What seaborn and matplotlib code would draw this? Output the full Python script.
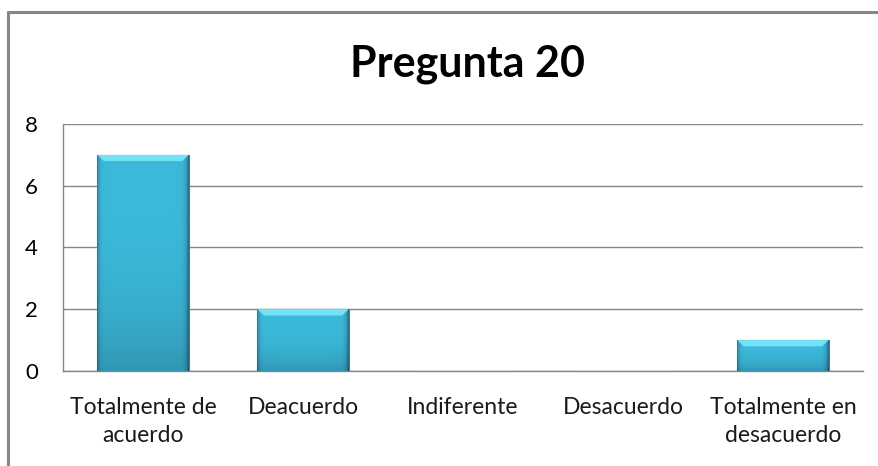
import numpy as np
import pandas as pd
import seaborn as sns
from matplotlib import pyplot as plt
from matplotlib.lines import Line2D
from matplotlib.patches import Polygon

plt.close('all')

# data
Categories = ['Totalmente de\nacuerdo', 'Deacuerdo', 'Indiferente',
              'Desacuerdo', 'Totalmente en\ndesacuerdo']
Counts = [7, 2, 0, 0, 1]
Title = 'Pregunta 20'
YTicks = [0, 2, 4, 6, 8]

df = pd.DataFrame({'Respuesta': Categories, 'Cantidad': Counts})

sns.set_style('white')
plt.rcParams['font.family'] = ['Lato', 'DejaVu Sans']

GridColor = '#868686'
BarColor = '#3cb9db'

fig = plt.figure(figsize=(8.79, 4.66), dpi=100)
ax = fig.add_axes([63 / 879, 95 / 466, 800 / 879, 247 / 466])

sns.barplot(data=df, x='Respuesta', y='Cantidad', color=BarColor,
            width=0.57, saturation=1, ax=ax, zorder=3)

# flat fill with darker side edges and a slightly darker bottom
nx, ny = 200, 200
xs = np.linspace(0, 1, nx)
ys = np.linspace(0, 1, ny)
side = 1 - 0.35 * np.exp(-xs / 0.02) - 0.45 * np.exp(-(1 - xs) / 0.025)
vert = 1 - 0.18 * ys ** 3
base = np.array([0x3c, 0xb9, 0xdb]) / 255
Img = np.clip(base[None, None, :] * (vert[:, None] * side[None, :])[:, :, None], 0, 1)

ax.set_xlim(-0.5, len(Categories) - 0.5)
ax.set_ylim(0, 8)

for patch in ax.patches:
    x0, y0 = patch.get_x(), patch.get_y()
    w, h = patch.get_width(), patch.get_height()
    if h <= 0:
        continue
    patch.set_edgecolor('#2a8aa6')
    patch.set_linewidth(0.8)
    im = ax.imshow(Img, aspect='auto', zorder=3.5,
                   extent=(x0, x0 + w, y0, y0 + h), interpolation='bilinear')
    im.set_clip_path(patch)
    # light bevel at the top
    bev = 0.2
    inset = w * 0.07
    top = y0 + h
    ax.add_patch(Polygon([(x0, top), (x0 + w, top), (x0 + w - inset, top - bev),
                          (x0 + inset, top - bev)],
                         closed=True, facecolor='#74e2f5', edgecolor='none',
                         zorder=3.6))

ax.set_yticks(YTicks)
ax.set_xlabel('')
ax.set_ylabel('')
ax.yaxis.grid(True, color=GridColor, linewidth=1.0, zorder=0)
ax.set_axisbelow(True)

for s in ('top', 'right'):
    ax.spines[s].set_visible(False)
for s in ('left', 'bottom'):
    ax.spines[s].set_color(GridColor)
    ax.spines[s].set_linewidth(1.0)

ax.tick_params(axis='y', length=0, pad=18, labelsize=16, labelcolor='black')
ax.tick_params(axis='x', length=0, pad=19, labelsize=16.5, labelcolor='#1a1a1a')
for lab in ax.get_xticklabels():
    lab.set_linespacing(1.4)

fig.text(0.532, 0.862, Title, ha='center', va='center',
         fontsize=31, fontweight='bold', color='black')

# outer chart frame (only top and left visible in the reference)
fig.add_artist(Line2D([8 / 879, 1.0], [454 / 466, 454 / 466],
                      color=GridColor, linewidth=2.2))
fig.add_artist(Line2D([8 / 879, 8 / 879], [0, 454 / 466],
                      color=GridColor, linewidth=2.2))

fig.savefig('out.png', dpi=100)
